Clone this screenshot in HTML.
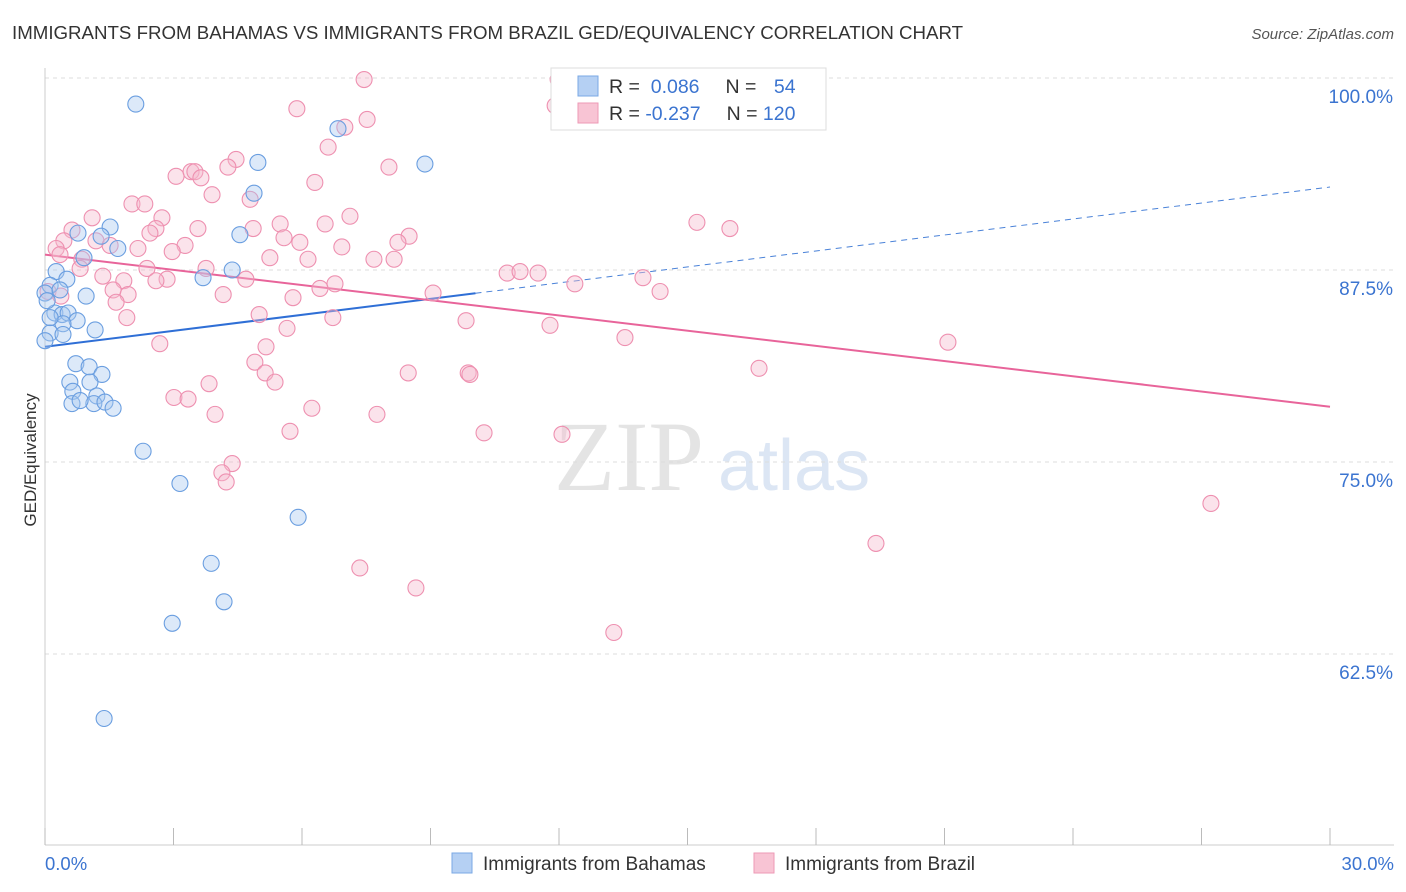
<!DOCTYPE html>
<html><head><meta charset="utf-8"><style>
body{margin:0;background:#fff;font-family:"Liberation Sans",sans-serif;}
#wrap{position:relative;width:1406px;height:892px;overflow:hidden;}
</style></head><body>
<div id="wrap">
<svg id="svg" width="1406" height="892" xmlns="http://www.w3.org/2000/svg">
<text x="12" y="39" font-size="18.7" fill="#333">IMMIGRANTS FROM BAHAMAS VS IMMIGRANTS FROM BRAZIL GED/EQUIVALENCY CORRELATION CHART</text>
<text x="1394" y="39" font-size="15" fill="#555" text-anchor="end" font-style="italic">Source: ZipAtlas.com</text>
<text x="36" y="460" font-size="17" fill="#333" text-anchor="middle" transform="rotate(-90 36 460)">GED/Equivalency</text>
<text x="554" y="490" font-size="100" fill="#e4e4e4" font-family="Liberation Serif, serif">ZIP</text>
<text x="718" y="490" font-size="72" fill="#dce6f4">atlas</text>
<g id="grid"></g><g id="axes"></g><g id="lines"></g><g id="pts"></g>
<g>
<rect x="551" y="68" width="275" height="62" fill="#fff" stroke="#ddd"/>
<rect x="578" y="76" width="20" height="20" fill="#b5d0f3" stroke="#7aa8e4"/>
<rect x="578" y="103" width="20" height="20" fill="#f8c4d4" stroke="#ee9ab6"/>
<text x="609" y="93" font-size="19.5" fill="#333">R = <tspan fill="#3b74d0">&#160;0.086</tspan><tspan dx="26">N = </tspan><tspan fill="#3b74d0" dx="12">54</tspan></text>
<text x="609" y="120" font-size="19.5" fill="#333">R = <tspan fill="#3b74d0">-0.237</tspan><tspan dx="26">N = </tspan><tspan fill="#3b74d0">120</tspan></text>
</g>
<g>
<rect x="452" y="853" width="20" height="20" fill="#b5d0f3" stroke="#7aa8e4"/>
<text x="483" y="870" font-size="19" fill="#333">Immigrants from Bahamas</text>
<rect x="754" y="853" width="20" height="20" fill="#f8c4d4" stroke="#ee9ab6"/>
<text x="785" y="870" font-size="19" fill="#333">Immigrants from Brazil</text>
</g>
</svg></div>
<script>
const yTicks=[100,87.5,75,62.5];
const yTickLabels=["100.0%","87.5%","75.0%","62.5%"];
const xTickCount=10;
const xLabels=["0.0%","30.0%"];
const blueX=[2.12,6.84,4.97,8.87,4.88,1.52,1.31,0.77,1.70,4.55,0.91,0.26,0.51,4.37,3.69,0.12,0.96,0.0,0.23,0.40,0.54,0.75,0.42,0.12,1.17,0.42,0.72,1.03,1.33,0.58,1.05,0.65,1.21,1.14,0.63,0.82,1.40,1.59,2.29,3.15,5.91,3.88,4.18,2.97,1.38,0.05,0.12,0.35,0.0];
const blueY=[98.3,96.7,94.5,94.4,92.5,90.3,89.7,89.9,88.9,89.8,88.3,87.4,86.9,87.5,87.0,86.5,85.8,86.0,84.7,84.6,84.7,84.2,84.0,83.4,83.6,83.3,81.4,81.2,80.7,80.2,80.2,79.6,79.3,78.8,78.8,79.0,78.9,78.5,75.7,73.6,71.4,68.4,65.9,64.5,58.3,85.5,84.4,86.2,82.9];
const pinkX=[7.45,11.98,16.23,5.88,11.91,7.52,7.00,6.61,4.46,8.03,4.27,3.41,3.50,3.06,3.64,3.90,4.79,2.03,2.33,6.30,2.73,1.10,7.12,6.54,5.49,4.86,2.59,0.63,3.57,2.45,15.22,15.99,8.50,8.24,5.58,5.95,0.44,1.19,3.27,0.26,6.93,1.52,2.97,0.35,2.17,0.86,5.25,6.14,7.68,8.15,2.38,3.76,0.82,1.35,4.69,1.84,2.85,2.59,10.79,11.09,11.51,13.96,6.77,6.42,0.07,0.37,4.16,1.94,1.59,9.06,5.79,12.37,14.36,1.66,1.91,5.00,6.72,9.83,11.79,5.65,13.54,2.68,21.08,5.16,4.90,5.14,5.37,3.83,8.48,9.88,9.92,16.67,3.01,3.34,6.23,3.97,7.75,5.72,10.25,12.07,4.37,4.13,4.23,27.22,19.40,7.35,8.66,13.28];
const pinkY=[99.9,99.9,99.9,98.0,98.2,97.3,96.8,95.5,94.7,94.2,94.2,93.9,93.9,93.6,93.5,92.4,92.1,91.8,91.8,93.2,90.9,90.9,91.0,90.5,90.5,90.2,90.2,90.1,90.2,89.9,90.6,90.2,89.7,89.3,89.6,89.3,89.4,89.4,89.1,88.9,89.0,89.1,88.7,88.5,88.9,88.2,88.3,88.2,88.2,88.2,87.6,87.6,87.6,87.1,86.9,86.8,86.9,86.8,87.3,87.4,87.3,87.0,86.6,86.3,86.1,85.8,85.9,85.9,86.2,86.0,85.7,86.6,86.1,85.4,84.4,84.6,84.4,84.2,83.9,83.7,83.1,82.7,82.8,82.5,81.5,80.8,80.2,80.1,80.8,80.8,80.7,81.1,79.2,79.1,78.5,78.1,78.1,77.0,76.9,76.8,74.9,74.3,73.7,72.3,69.7,68.1,66.8,63.9];
const blueTrend=[82.5,92.9];
const blueSolidEnd=10.05;
const pinkTrend=[88.5,78.6];

const X0=45,X1=1330,Y100=78,PXPER=192/12.5;
const sx=v=>X0+(v/30)*(X1-X0);
const sy=v=>Y100+(100-v)*PXPER;
const NS="http://www.w3.org/2000/svg";
function mk(tag,attrs,parent){const e=document.createElementNS(NS,tag);for(const k in attrs)e.setAttribute(k,attrs[k]);parent.appendChild(e);return e;}
const grid=document.getElementById('grid'),axes=document.getElementById('axes'),lines=document.getElementById('lines'),pts=document.getElementById('pts');
yTicks.forEach((t,i)=>{
  const l=mk('line',{x1:X0,x2:1394,y1:sy(t),y2:sy(t),stroke:'#ddd','stroke-dasharray':'4,4'},grid);
  
  
  const tx=mk('text',{x:1393,y:sy(t)+25,'font-size':19,fill:'#3b74d0','text-anchor':'end'},grid);
  tx.textContent=yTickLabels[i];
  
  
});
const ya=mk('line',{x1:X0,x2:X0,y1:68,y2:845,stroke:'#ccc'},axes);


const xa=mk('line',{x1:X0,x2:1394,y1:845,y2:845,stroke:'#ccc'},axes);


for(let i=0;i<=xTickCount;i++){
  const x=sx(i*30/xTickCount);
  const t=mk('line',{x1:x,x2:x,y1:828,y2:845,stroke:'#bbb'},axes);
  
  
}
[[0,'start',45],[30,'end',1394]].forEach((d,i)=>{
  const t=mk('text',{x:d[2],y:870,'font-size':18.5,fill:'#3b74d0','text-anchor':d[1]},axes);
  t.textContent=xLabels[i];
  
  
});
function drawPts(xs,ys,fill,stroke,name){
  xs.forEach((x,i)=>{
    const c=mk('circle',{cx:sx(x),cy:sy(ys[i]),r:8,fill:fill,'fill-opacity':0.4,stroke:stroke,'stroke-width':1.1},pts);
    
    
  });
}
drawPts(pinkX,pinkY,'#f5b8cc','#ee90b0','brazil-point');
drawPts(blueX,blueY,'#a8c8f0','#6a9ee0','bahamas-point');
const by=x=>blueTrend[0]+(blueTrend[1]-blueTrend[0])*x/30;
const bl=mk('line',{x1:sx(0),y1:sy(by(0)),x2:sx(blueSolidEnd),y2:sy(by(blueSolidEnd)),stroke:'#2f6fd6','stroke-width':2},lines);


const bd=mk('line',{x1:sx(blueSolidEnd),y1:sy(by(blueSolidEnd)),x2:sx(30),y2:sy(by(30)),stroke:'#4a82d8','stroke-width':1,'stroke-dasharray':'6,5'},lines);


const pl=mk('line',{x1:sx(0),y1:sy(pinkTrend[0]),x2:sx(30),y2:sy(pinkTrend[1]),stroke:'#e8649a','stroke-width':2},lines);


</script>
</body></html>
